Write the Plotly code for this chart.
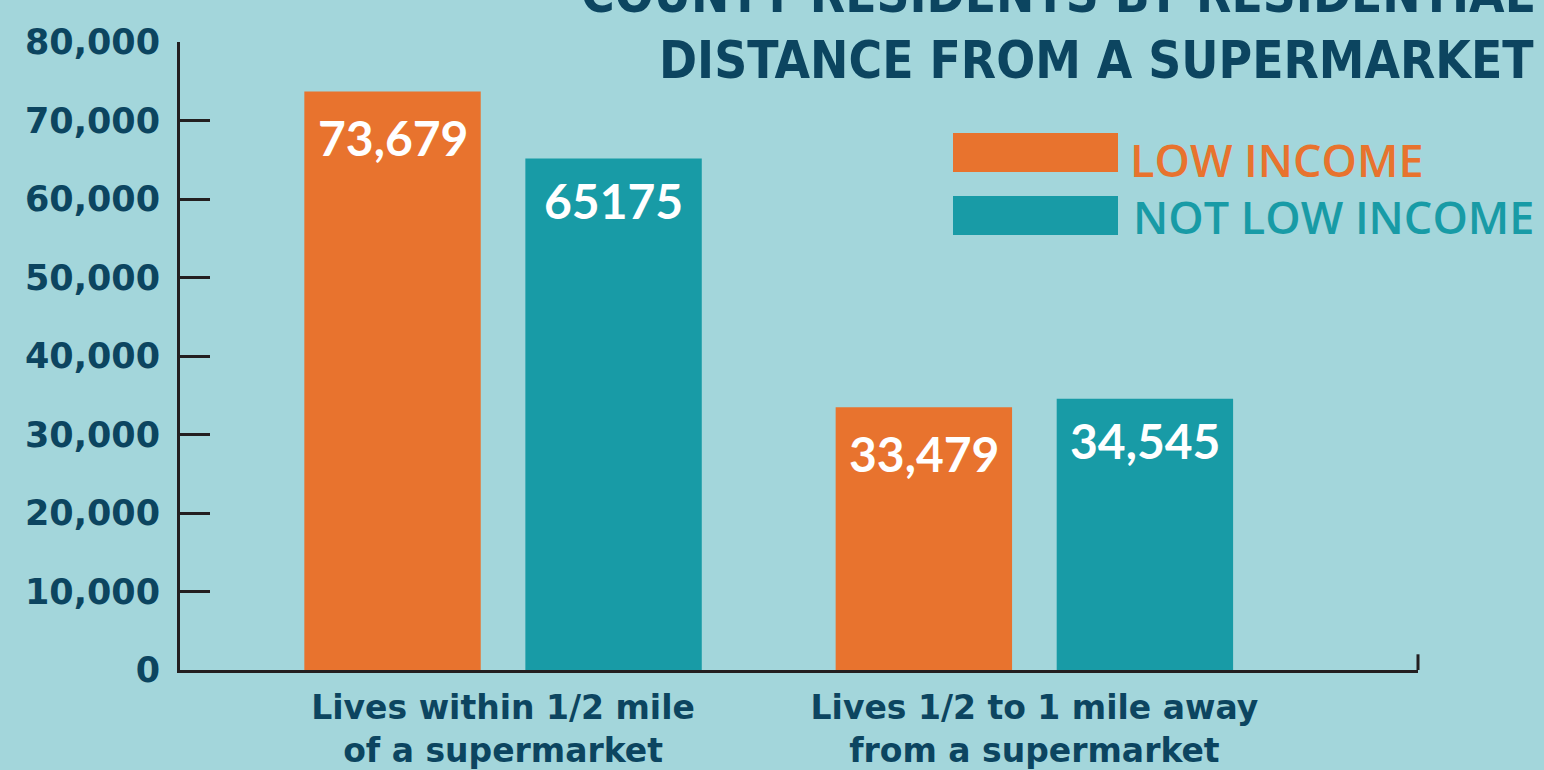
import plotly.graph_objects as go

categories = ["Lives within 1/2 mile<br>of a supermarket", "Lives 1/2 to 1 mile away<br>from a supermarket"]
low_income = [73679, 33479]
not_low_income = [65175, 34545]
low_labels = ["73,679", "33,479"]
not_low_labels = ["65175", "34,545"]
y_ticks = [0, 10000, 20000, 30000, 40000, 50000, 60000, 70000, 80000]
y_ticktext = ["0", "10,000", "20,000", "30,000", "40,000", "50,000", "60,000", "70,000", "80,000"]
title_lines = ["COUNTY RESIDENTS BY RESIDENTIAL", "DISTANCE FROM A SUPERMARKET"]
legend_names = ["LOW INCOME", "NOT LOW INCOME"]

BG = "#a3d6db"
ORANGE = "#e8732e"
TEAL = "#189ba6"
NAVY = "#0c4560"
AXIS = "#231f20"

# plot area in pixels
L, R, T, B = 180, 1418, 42, 670


def px(x):
    return (x - L) / (R - L)


def py(y):
    return (B - y) / (B - T)


W_BAR = 0.332
OFF_L = -0.374
OFF_R = 0.042

fig = go.Figure()
fig.add_trace(go.Bar(x=categories, y=low_income, name=legend_names[0], marker_color=ORANGE,
                     offset=OFF_L, width=W_BAR, marker_line_width=0, showlegend=False))
fig.add_trace(go.Bar(x=categories, y=not_low_income, name=legend_names[1], marker_color=TEAL,
                     offset=OFF_R, width=W_BAR, marker_line_width=0, showlegend=False))

val_font = dict(family="Lato", size=48, color="white", weight="bold")
annotations = []
for i, (v, t) in enumerate(zip(low_income, low_labels)):
    annotations.append(dict(x=i + OFF_L + W_BAR / 2, y=v, xref="x", yref="y", text=t, showarrow=False,
                            yanchor="middle", yshift=-46, font=val_font))
for i, (v, t) in enumerate(zip(not_low_income, not_low_labels)):
    annotations.append(dict(x=i + OFF_R + W_BAR / 2, y=v, xref="x", yref="y", text=t, showarrow=False,
                            yanchor="middle", yshift=-42, font=val_font))

# title (two right-aligned lines, first partly clipped at top)
title_font = dict(family="DejaVu Sans Condensed", size=51, color=NAVY, weight="bold")
annotations.append(dict(x=px(1536), y=py(-6), xref="paper", yref="paper", xanchor="right", yanchor="middle",
                        text=title_lines[0], showarrow=False, font=title_font))
annotations.append(dict(x=px(1536), y=py(60), xref="paper", yref="paper", xanchor="right", yanchor="middle",
                        text=title_lines[1], showarrow=False, font=title_font))

# legend text
legend_font = dict(family="Open Sans", size=45, weight=600)
annotations.append(dict(x=px(1128), y=py(159), xref="paper", yref="paper", xanchor="left", yanchor="middle",
                        text=legend_names[0], showarrow=False, font=dict(legend_font, color=ORANGE)))
annotations.append(dict(x=px(1131), y=py(216), xref="paper", yref="paper", xanchor="left", yanchor="middle",
                        text=legend_names[1], showarrow=False, font=dict(legend_font, color=TEAL)))

shapes = [
    dict(type="rect", xref="paper", yref="paper", x0=px(953), x1=px(1118),
         y0=py(172), y1=py(133), fillcolor=ORANGE, line_width=0, layer="above"),
    dict(type="rect", xref="paper", yref="paper", x0=px(953), x1=px(1118),
         y0=py(235), y1=py(196), fillcolor=TEAL, line_width=0, layer="above"),
    # small upturn at the right end of the baseline
    dict(type="line", xref="x domain", yref="y", x0=1, x1=1, y0=0, y1=2000,
         line=dict(color=AXIS, width=3)),
]

fig.update_layout(
    width=1544, height=770,
    margin=dict(l=L, r=1544 - R, t=T, b=770 - B, pad=0),
    paper_bgcolor=BG, plot_bgcolor=BG,
    annotations=annotations, shapes=shapes,
    showlegend=False,
    xaxis=dict(type="category", range=[-0.608, 1.722], showgrid=False, zeroline=False, automargin=False,
               showline=True, linecolor=AXIS, linewidth=3, ticks="", ticklabelstandoff=6,
               tickfont=dict(family="DejaVu Sans", size=33, color=NAVY, weight="bold")),
    yaxis=dict(range=[0, 80000], tickvals=y_ticks, ticktext=y_ticktext, showgrid=False, zeroline=False,
               automargin=False,
               showline=True, linecolor=AXIS, linewidth=3, ticks="inside", ticklen=30, tickwidth=3,
               tickcolor=AXIS, ticklabelstandoff=10,
               tickfont=dict(family="DejaVu Sans", size=35, color=NAVY, weight="bold")),
)

fig.write_html("out.html", config={"displayModeBar": False},
               post_script="document.body.style.margin='0px';")
